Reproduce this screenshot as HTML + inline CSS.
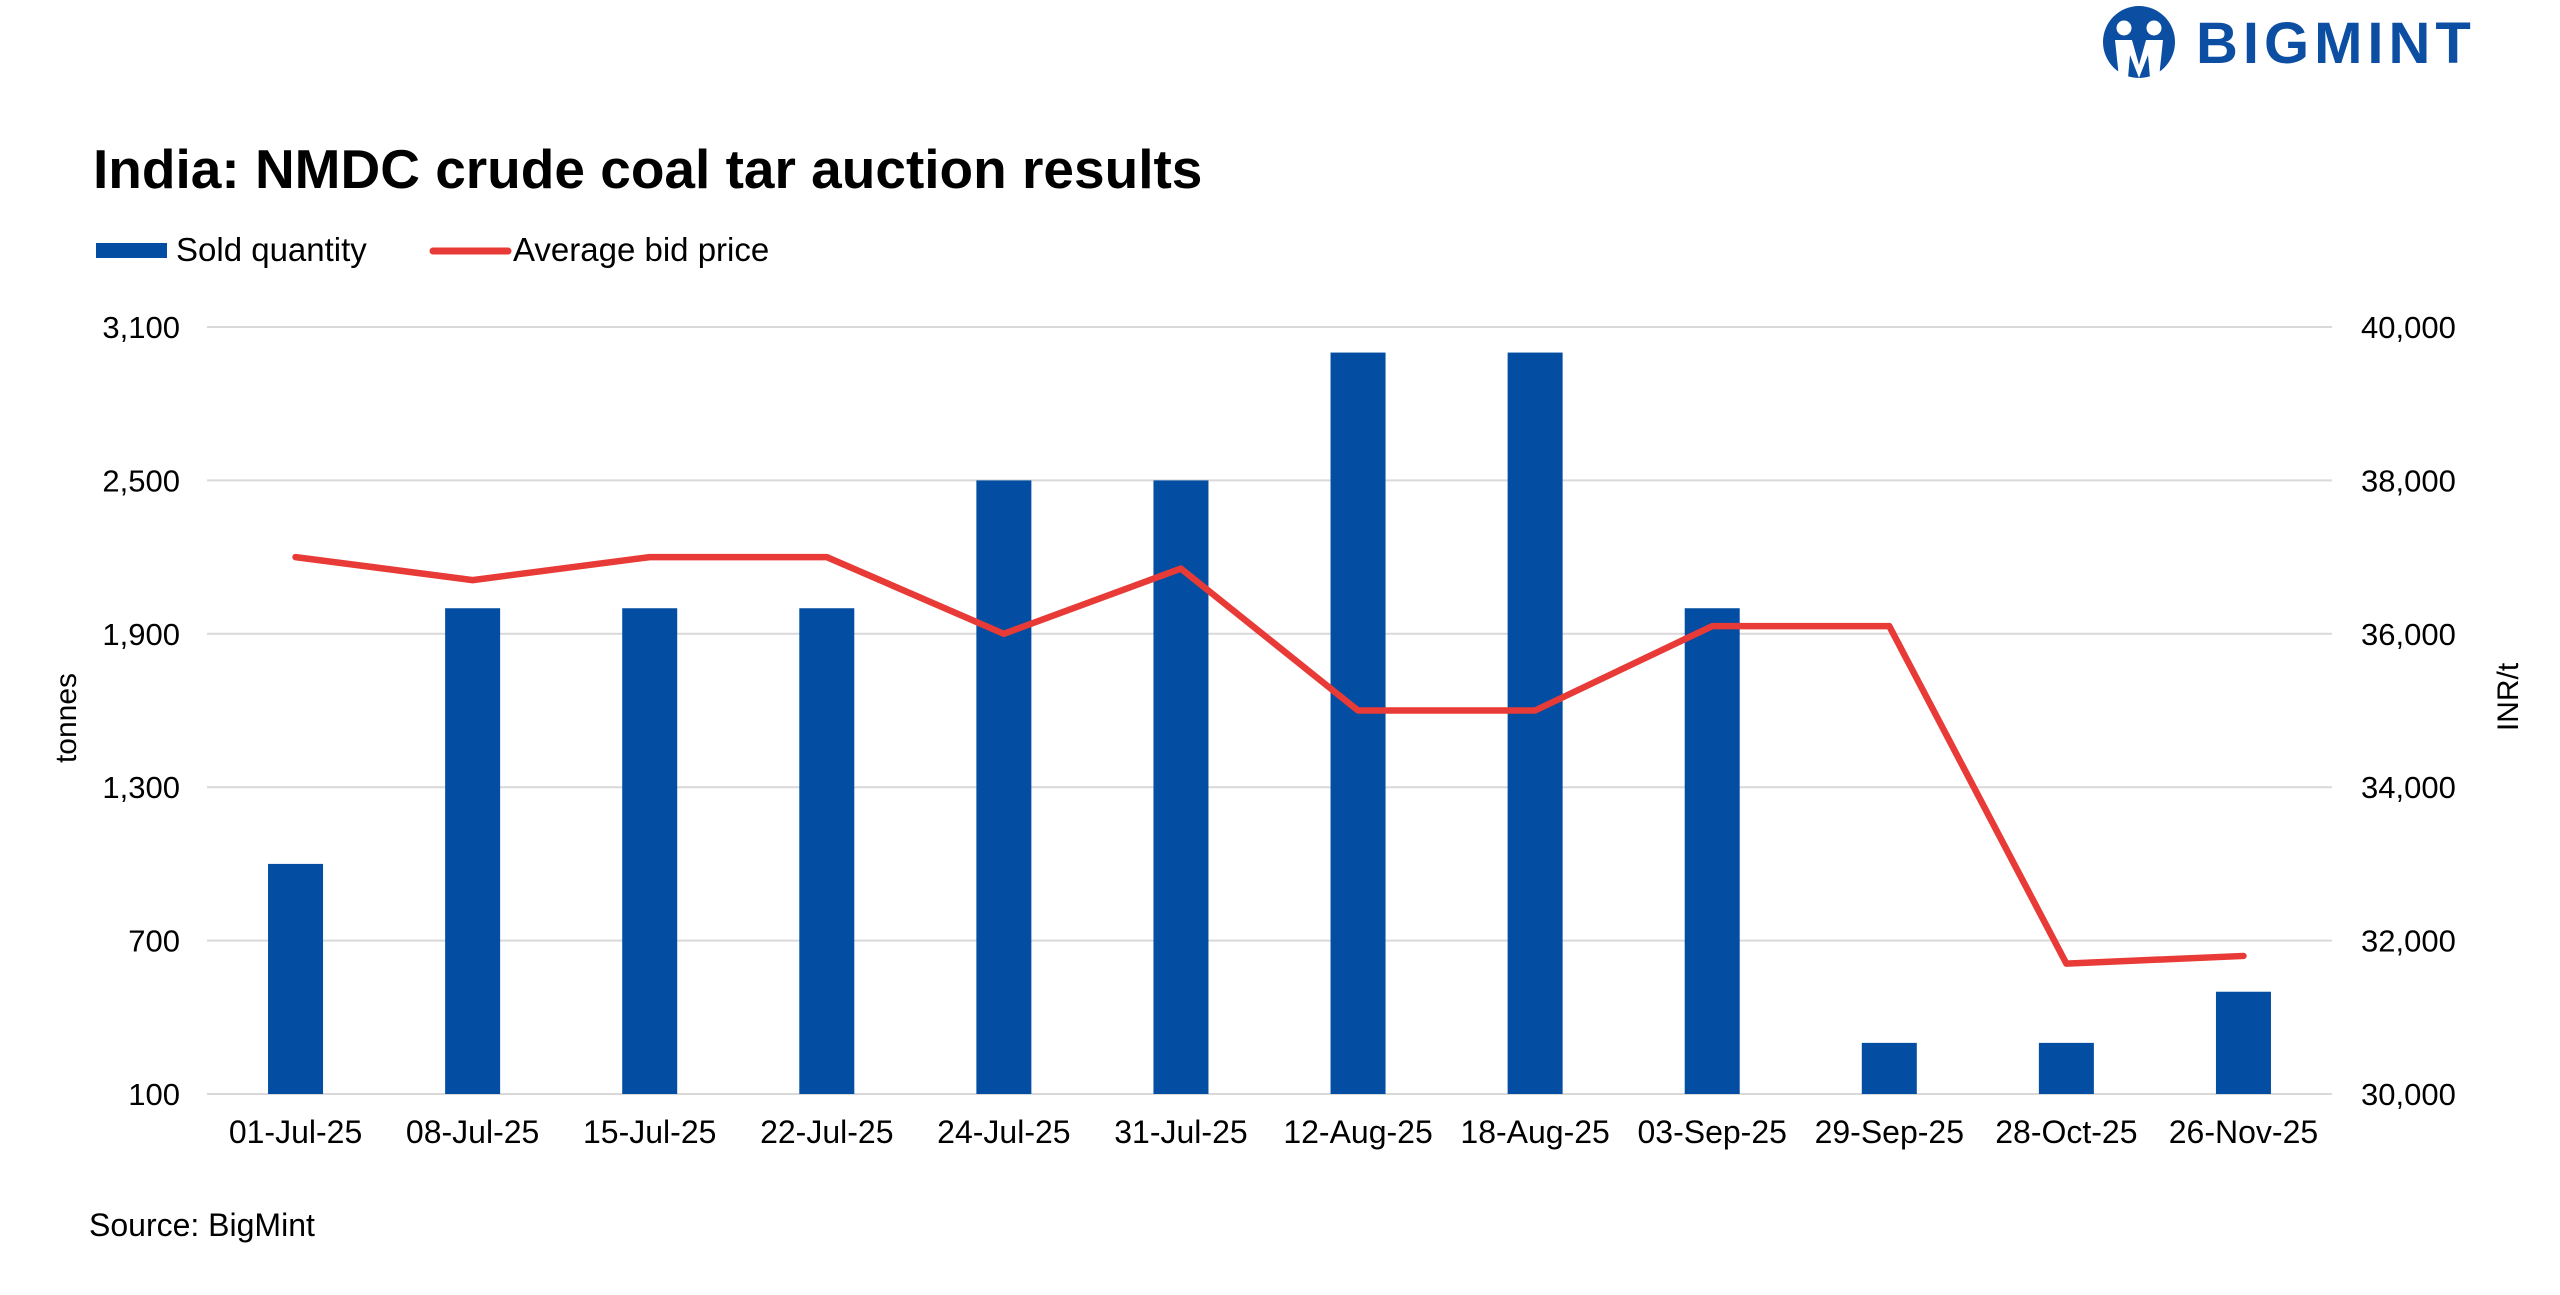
<!DOCTYPE html>
<html><head><meta charset="utf-8"><style>
body{margin:0;background:#fff;}
svg{display:block;font-family:"Liberation Sans",sans-serif;}
</style></head><body>
<svg id="chart" width="2560" height="1295" viewBox="0 0 2560 1295" xmlns="http://www.w3.org/2000/svg">
<g>
<circle cx="2139" cy="42" r="36" fill="#0b4ea2"/>
<circle cx="2124" cy="28" r="7.5" fill="#fff"/><circle cx="2154" cy="28" r="7.5" fill="#fff"/>
<path d="M2115 40 L2132 40 L2139 65 L2146 40 L2163 40 L2159 78 L2150 78 L2148 55 L2139 78 L2130 55 L2128 78 L2119 78 Z" fill="#fff"/>
<text x="2196" y="63" font-size="58" font-weight="bold" fill="#0b4ea2" letter-spacing="5">BIGMINT</text>
</g>
<text x="93" y="188" font-size="55" font-weight="bold" fill="#000">India: NMDC crude coal tar auction results</text>
<g>
<rect x="96" y="243" width="71" height="15" fill="#034ea2"/>
<text x="176" y="261" font-size="33" fill="#000">Sold quantity</text>
<line x1="433" y1="251" x2="508" y2="251" stroke="#e83a36" stroke-width="7" stroke-linecap="round"/>
<text x="513" y="261" font-size="33" fill="#000">Average bid price</text>
</g>
<g id="grid"></g><g id="bars"></g><g id="line"></g><g id="axes"></g>
<text transform="translate(76,718) rotate(-90)" text-anchor="middle" font-size="30" fill="#000">tonnes</text>
<text transform="translate(2518,697) rotate(-90)" text-anchor="middle" font-size="30" fill="#000">INR/t</text>
<text x="89" y="1236" font-size="32" fill="#000">Source: BigMint</text>
</svg>
<script>
const categories=["01-Jul-25","08-Jul-25","15-Jul-25","22-Jul-25","24-Jul-25","31-Jul-25","12-Aug-25","18-Aug-25","03-Sep-25","29-Sep-25","28-Oct-25","26-Nov-25"];
const soldQuantity=[1000,2000,2000,2000,2500,2500,3000,3000,2000,300,300,500];
const avgBidPrice=[37000,36700,37000,37000,36000,36850,35000,35000,36100,36100,31700,31800];
const leftTicks=[100,700,1300,1900,2500,3100];
const rightTicks=[30000,32000,34000,36000,38000,40000];
const NS="http://www.w3.org/2000/svg";
const X0=207,X1=2332,Ytop=327,Ybot=1094;
const step=(X1-X0)/categories.length;
const xC=i=>X0+step*(i+0.5);
const yL=v=>Ybot-(v-100)/(3100-100)*(Ybot-Ytop);
const yR=v=>Ybot-(v-30000)/(40000-30000)*(Ybot-Ytop);
function mk(tag,attrs,parent){const e=document.createElementNS(NS,tag);for(const k in attrs)e.setAttribute(k,attrs[k]);document.getElementById(parent).appendChild(e);return e;}
leftTicks.forEach((t,i)=>{
 const g=mk("line",{x1:X0,x2:X1,y1:yL(t),y2:yL(t),stroke:"#d9d9d9","stroke-width":2},"grid");
 
 
 const l=mk("text",{x:180,y:yL(t)+11,"text-anchor":"end","font-size":31,fill:"#000"},"axes");
 l.textContent=t.toLocaleString("en-US");
 
 
});
rightTicks.forEach(t=>{
 const l=mk("text",{x:2361,y:yR(t)+11,"font-size":31,fill:"#000"},"axes");
 l.textContent=t.toLocaleString("en-US");
 
 
});
categories.forEach((c,i)=>{
 const b=mk("rect",{x:xC(i)-27.5,y:yL(soldQuantity[i]),width:55,height:Ybot-yL(soldQuantity[i]),fill:"#034ea2"},"bars");
 
 
 const l=mk("text",{x:xC(i),y:1143,"text-anchor":"middle","font-size":32,fill:"#000"},"axes");
 l.textContent=c;
 
 
});
const p=mk("polyline",{points:avgBidPrice.map((v,i)=>xC(i)+","+yR(v)).join(" "),fill:"none",stroke:"#e83a36","stroke-width":6.5,"stroke-linejoin":"round","stroke-linecap":"round"},"line");


</script>
</body></html>
